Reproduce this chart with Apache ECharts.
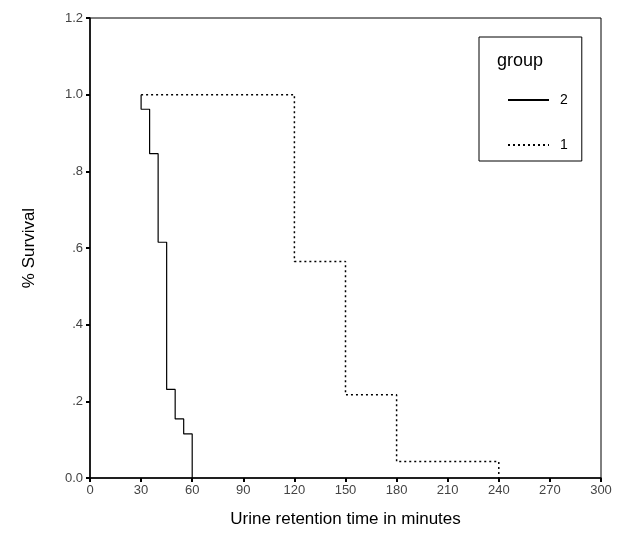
<!DOCTYPE html>
<html>
<head>
<meta charset="utf-8">
<script src="https://cdn.jsdelivr.net/npm/echarts@6/dist/echarts.min.js"></script>
<style>
    html, body { margin: 0; padding: 0; background: #fff; }
    #chart { width: 626px; height: 547px; }
</style>
</head>
<body>
<div id="chart"></div>
<script>
// Kaplan-Meier steps
var group2Time = [30, 30, 35, 40, 45, 50, 55, 60];
var group2Surv = [1.0, 0.962, 0.846, 0.615, 0.231, 0.154, 0.115, 0.0];
var group1Time = [30, 120, 150, 180, 240];
var group1Surv = [1.0, 0.565, 0.217, 0.043, 0.0];
var yTicks = { "0": "0.0", "0.2": ".2", "0.4": ".4", "0.6": ".6", "0.8": ".8", "1": "1.0", "1.2": "1.2" };

function pairs(xs, ys) {
    return xs.map(function (x, i) { return [x, ys[i]]; });
}

var chart = echarts.init(document.getElementById("chart"));
var font = "'Liberation Sans', Arial, sans-serif";
var option = {
    backgroundColor: "#fff",
    animation: false,
    textStyle: { fontFamily: font },
    grid: { left: 90, top: 18, right: 25, bottom: 69, show: true, borderColor: "#000", borderWidth: 1 },
    title: {
        text: "group",
        left: 492, top: 47,
        textStyle: { fontFamily: font, fontSize: 18, fontWeight: "normal", color: "#000" }
    },
    legend: {
        orient: "vertical",
        left: 479, top: 37,
        padding: [56, 14, 9, 28],
        itemGap: 31,
        itemWidth: 41,
        itemHeight: 14,
        borderColor: "#000",
        borderWidth: 1,
        data: ["2", "1"],
        itemStyle: { color: "transparent", borderWidth: 0, opacity: 0 },
        textStyle: { fontFamily: font, fontSize: 14, color: "#000", padding: [0, 0, 0, 6] }
    },
    xAxis: {
        type: "value",
        min: 0, max: 300, interval: 30,
        name: "Urine retention time in minutes",
        nameLocation: "middle",
        nameGap: 33,
        nameTextStyle: { fontFamily: font, fontSize: 17, color: "#000" },
        axisLine: { lineStyle: { color: "#000", width: 1.5 } },
        axisTick: { length: 4, lineStyle: { color: "#000", width: 2 } },
        axisLabel: { fontFamily: font, fontSize: 13, color: "#444", margin: 6 },
        splitLine: { show: false }
    },
    yAxis: {
        type: "value",
        min: 0, max: 1.2, interval: 0.2,
        name: "% Survival",
        nameLocation: "middle",
        nameGap: 52,
        nameTextStyle: { fontFamily: font, fontSize: 17, color: "#000" },
        axisLine: { show: true, lineStyle: { color: "#000", width: 1.5 } },
        axisTick: { show: true, length: 4, lineStyle: { color: "#000", width: 2 } },
        axisLabel: {
            fontFamily: font, fontSize: 13, color: "#444", margin: 7,
            formatter: function (v) { return yTicks[String(Math.round(v * 10) / 10)] || ""; }
        },
        splitLine: { show: false }
    },
    series: [{
        name: "2",
        type: "line",
        step: "end",
        symbol: "none",
        data: pairs(group2Time, group2Surv),
        lineStyle: { color: "#000", width: 1.2, type: "solid" },
        itemStyle: { color: "#000" }
    }, {
        name: "1",
        type: "line",
        step: "end",
        symbol: "none",
        data: pairs(group1Time, group1Surv),
        lineStyle: { color: "#000", width: 1.5, type: [2, 3] },
        itemStyle: { color: "#000" }
    }]
};
chart.setOption(option);
</script>
</body>
</html>
